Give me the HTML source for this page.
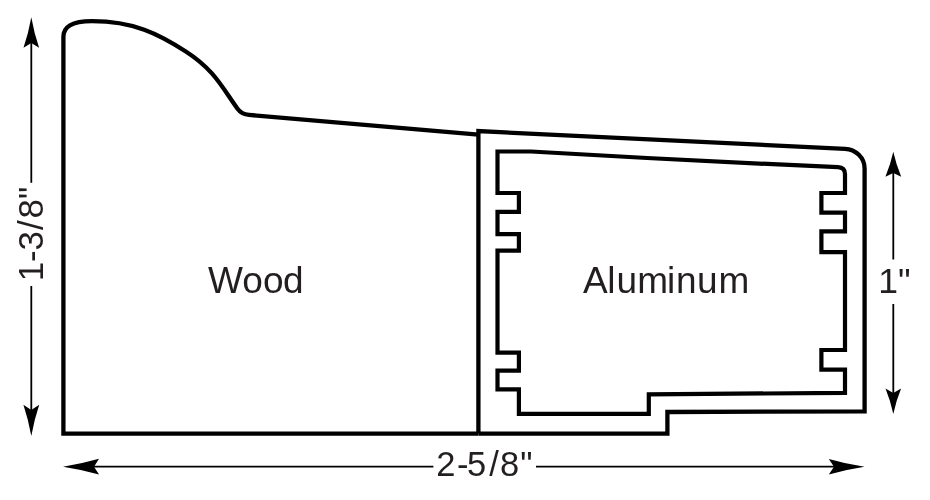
<!DOCTYPE html>
<html>
<head>
<meta charset="utf-8">
<title>Frame profile</title>
<style>
html,body{margin:0;padding:0;background:#fff;}
body{width:930px;height:500px;overflow:hidden;}
svg{display:block;will-change:transform;}
text{font-family:"Liberation Sans",sans-serif;fill:#231f20;}
</style>
</head>
<body>
<svg width="930" height="500" viewBox="0 0 930 500">
<rect width="930" height="500" fill="#fff"/>
<g fill="none" stroke="#000" stroke-width="4.3" stroke-linejoin="miter">
<path d="M478.4 433.6 H63.4 V37 C63.4 27 71 21.2 92 21.2 C133.6 21.2 158.5 33.9 185.8 51.5 C214.5 69.9 222.5 88.1 237.3 108.4 Q241.5 114.2 249 114.9 L478.4 134.6"/>
<path d="M478.4 433.6 V131.1 L845 148.8 C855.8 149.3 864.6 157.7 864.6 168.5 V411.3 L667.4 412 V433.6 H478.4"/>
<path stroke-width="4.2" d="M497.5 151.5 H531 Q684.5 160.6 838 167.1 Q845 167.4 845 174 V193 H821.4 V212.6 H845 V231.4 H821.4 V252.2 H845 V350 H821.4 V369.6 H845 V392.8 L648.8 394.4 V413.8 H518.9 V389.4 H497.5 V370.7 H518.9 V352.6 H497.5 V250.6 H518.9 V234.2 H497.5 V211.8 H518.9 V193 H497.5 Z"/>
</g>
<g stroke="#000" stroke-width="1.8" fill="none">
<line x1="31.3" y1="40" x2="31.3" y2="182.8"/>
<line x1="31.3" y1="286" x2="31.3" y2="412"/>
<line x1="92" y1="466.7" x2="433.4" y2="466.7"/>
<line x1="536" y1="466.7" x2="836" y2="466.7"/>
<line x1="893.3" y1="172" x2="893.3" y2="259.5"/>
<line x1="893.3" y1="304" x2="893.3" y2="394"/>
</g>
<g fill="#000">
<path d="M31.3 17.2 Q34.04 32.8 39.1 47.8 L31.3 43 L23.5 47.8 Q28.56 32.8 31.3 17.2 Z"/>
<path d="M31.3 436 Q28.51 420.06 23.4 404.7 L31.3 410 L39.2 404.7 Q34.09 420.06 31.3 436 Z"/>
<path d="M63 466.65 Q81.26 463.9 99 458.8 L94 466.65 L99 474.5 Q81.26 469.4 63 466.65 Z"/>
<path d="M864.5 466.7 Q846.39 469.43 828.8 474.5 L834 466.7 L828.8 458.9 Q846.39 463.97 864.5 466.7 Z"/>
<path d="M893.3 151.8 Q896.11 164.66 901.2 176.8 L893.3 173 L885.4 176.8 Q890.49 164.66 893.3 151.8 Z"/>
<path d="M893.3 414 Q890.55 400.9 885.5 388.5 L893.3 393 L901.1 388.5 Q896.05 400.9 893.3 414 Z"/>
</g>
<text x="208.11 242.35 263.06 283.03" y="292.6" font-size="37">Wood</text>
<text x="583.11 607.33 616.44 637.18 666.95 675.98 696.89 718.58" y="292.7" font-size="37">Aluminum</text>
<text x="436.36 456.91 467.04 489.26 499.91 520.18" y="475.5" font-size="34.5">2-5/8"</text>
<text x="878.16 897.95" y="293" font-size="35.5">1"</text>
<text x="18.71 37.91 49.42 69.92 81.57 101.12" y="0" font-size="34.8" transform="translate(42.8 300) rotate(-90)">1-3/8"</text>
</svg>
</body>
</html>
